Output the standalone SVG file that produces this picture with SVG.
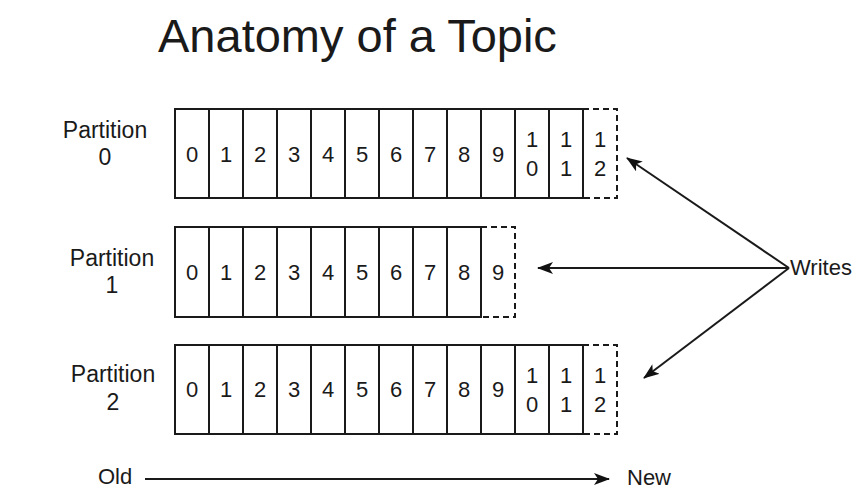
<svg xmlns="http://www.w3.org/2000/svg" width="868" height="496" viewBox="0 0 868 496">
<defs>
<style>
.t{font-family:"Liberation Sans",Arial,sans-serif;fill:#1a1a1a}
.lbl{font-size:23px;text-anchor:middle}
.d{font-size:22px;text-anchor:middle}
.cell{fill:#fff;stroke:#1a1a1a;stroke-width:2}
.dash{fill:none;stroke:#1a1a1a;stroke-width:2;stroke-dasharray:6 4}
.con{fill:none;stroke:#1a1a1a;stroke-width:2}
</style>
<marker id="ah" viewBox="0 0 16 12" refX="15" refY="6" markerWidth="16" markerHeight="12" markerUnits="userSpaceOnUse" orient="auto">
<path d="M0,0 L16,6 L0,12 L4,6 z" fill="#111"/>
</marker>
</defs>
<rect width="868" height="496" fill="#fff"/>
<text class="t" x="158" y="52" font-size="47" fill="#000">Anatomy of a Topic</text>

<g id="partition0">
<text class="t lbl" x="105" y="138">Partition</text>
<text class="t lbl" x="105" y="165">0</text>
<rect class="cell" x="175" y="109" width="408" height="89"/>
<path class="con" d="M209,109V198M243,109V198M277,109V198M311,109V198M345,109V198M379,109V198M413,109V198M447,109V198M481,109V198M515,109V198M549,109V198"/>
<path class="dash" d="M583,109H617V198H583"/>
<text class="t d" x="192" y="162">0</text><text class="t d" x="226" y="162">1</text><text class="t d" x="260" y="162">2</text><text class="t d" x="294" y="162">3</text><text class="t d" x="328" y="162">4</text><text class="t d" x="362" y="162">5</text><text class="t d" x="396" y="162">6</text><text class="t d" x="430" y="162">7</text><text class="t d" x="464" y="162">8</text><text class="t d" x="498" y="162">9</text>
<text class="t d" x="532" y="147">1</text><text class="t d" x="532" y="176">0</text>
<text class="t d" x="566" y="147">1</text><text class="t d" x="566" y="176">1</text>
<text class="t d" x="600" y="147">1</text><text class="t d" x="600" y="176">2</text>
</g>

<g id="partition1">
<text class="t lbl" x="112" y="266">Partition</text>
<text class="t lbl" x="112" y="293">1</text>
<rect class="cell" x="175" y="227" width="306" height="90"/>
<path class="con" d="M209,227V317M243,227V317M277,227V317M311,227V317M345,227V317M379,227V317M413,227V317M447,227V317"/>
<path class="dash" d="M481,227H515V317H481"/>
<text class="t d" x="192" y="280">0</text><text class="t d" x="226" y="280">1</text><text class="t d" x="260" y="280">2</text><text class="t d" x="294" y="280">3</text><text class="t d" x="328" y="280">4</text><text class="t d" x="362" y="280">5</text><text class="t d" x="396" y="280">6</text><text class="t d" x="430" y="280">7</text><text class="t d" x="464" y="280">8</text><text class="t d" x="498" y="280">9</text>
</g>

<g id="partition2">
<text class="t lbl" x="113" y="382">Partition</text>
<text class="t lbl" x="113" y="410">2</text>
<rect class="cell" x="175" y="345" width="408" height="89"/>
<path class="con" d="M209,345V434M243,345V434M277,345V434M311,345V434M345,345V434M379,345V434M413,345V434M447,345V434M481,345V434M515,345V434M549,345V434"/>
<path class="dash" d="M583,345H617V434H583"/>
<text class="t d" x="192" y="397">0</text><text class="t d" x="226" y="397">1</text><text class="t d" x="260" y="397">2</text><text class="t d" x="294" y="397">3</text><text class="t d" x="328" y="397">4</text><text class="t d" x="362" y="397">5</text><text class="t d" x="396" y="397">6</text><text class="t d" x="430" y="397">7</text><text class="t d" x="464" y="397">8</text><text class="t d" x="498" y="397">9</text>
<text class="t d" x="532" y="383">1</text><text class="t d" x="532" y="412">0</text>
<text class="t d" x="566" y="383">1</text><text class="t d" x="566" y="412">1</text>
<text class="t d" x="600" y="383">1</text><text class="t d" x="600" y="412">2</text>
</g>

<g id="writes">
<text class="t" x="790" y="275" font-size="22">Writes</text>
</g>
<g id="old"><text class="t" x="98" y="484" font-size="22">Old</text></g>
<g id="new"><text class="t" x="627" y="485" font-size="22">New</text></g>

<g id="connectors">
<path class="con" d="M789,268L627,158" marker-end="url(#ah)"/>
<path class="con" d="M789,268L538,268" marker-end="url(#ah)"/>
<path class="con" d="M789,268L644,378" marker-end="url(#ah)"/>
<path class="con" d="M145,479L609,479" marker-end="url(#ah)"/>
</g>
</svg>
